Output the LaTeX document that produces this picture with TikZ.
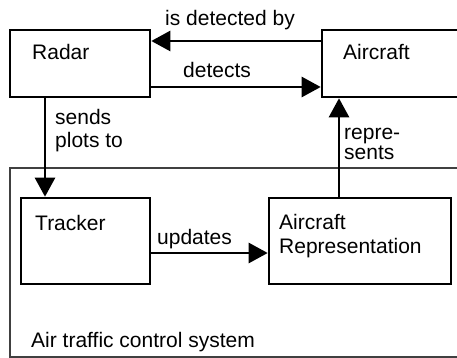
\documentclass[tikz,border=0pt]{standalone}
\usepackage{fontspec}
\setmainfont{Liberation Sans}
\usetikzlibrary{arrows.meta}
\begin{document}
\begin{tikzpicture}[x=1pt,y=-1pt,
  box/.style={draw, line width=2.6pt, inner sep=0pt, minimum width=#1},
  arr/.style={line width=2.6pt, -{Triangle[length=19pt,width=20pt]}},
  lbl/.style={inner sep=0pt, anchor=base west, font=\fontsize{21}{24}\selectfont}]
\useasboundingbox (0,0) rectangle (457,358);
\clip (0,0) rectangle (457,358);
% outer system box
\node[draw=black!75, line width=1.2pt, minimum width=465pt, minimum height=189pt, inner sep=0pt] (system) at (242.5,262.5) {};
% boxes
\node[box=140pt, minimum height=67pt] (radar) at (80,63.5) {};
\node[box=156pt, minimum height=67pt] (aircraft) at (400,63.5) {};
\node[box=129pt, minimum height=86pt] (tracker) at (85.5,241) {};
\node[box=182pt, minimum height=86pt] (acrep) at (360,241) {};
% texts
\node[lbl] (tRadar) at (32,60) {Radar};
\node[lbl] (tAircraft) at (343,60) {Aircraft};
\node[lbl] (tTracker) at (35,230) {Tracker};
\node[lbl] (tAR1) at (279,229) {Aircraft};
\node[lbl] (tAR2) at (279,253) {Representation};
\node[lbl] (tSys) at (31,347) {Air traffic control system};
% connectors
\draw[arr] ([yshift=22.5pt]aircraft.west) -- ([yshift=22.5pt]aircraft.west -| radar.east);
\draw[arr] ([yshift=-23.5pt]radar.east) -- ([yshift=-23.5pt]radar.east -| aircraft.west);
\draw[arr] ([xshift=-35pt]radar.south) -- ([xshift=-35pt]radar.south |- tracker.north);
\draw[arr] ([xshift=-21pt]acrep.north) -- ([xshift=-21pt]acrep.north |- aircraft.south);
\draw[arr] ([yshift=-12pt]tracker.east) -- ([yshift=-12pt]tracker.east -| acrep.west);
% connector labels
\node[lbl] (lDetBy) at (165,26) {is detected by};
\node[lbl] (lDet) at (183,78) {detects};
\node[lbl] (lSends1) at (55,125) {sends};
\node[lbl] (lSends2) at (55,148) {plots to};
\node[lbl] (lRep1) at (344,140) {repre-};
\node[lbl] (lRep2) at (344,160) {sents};
\node[lbl] (lUpd) at (157,244) {updates};
\end{tikzpicture}
\end{document}
